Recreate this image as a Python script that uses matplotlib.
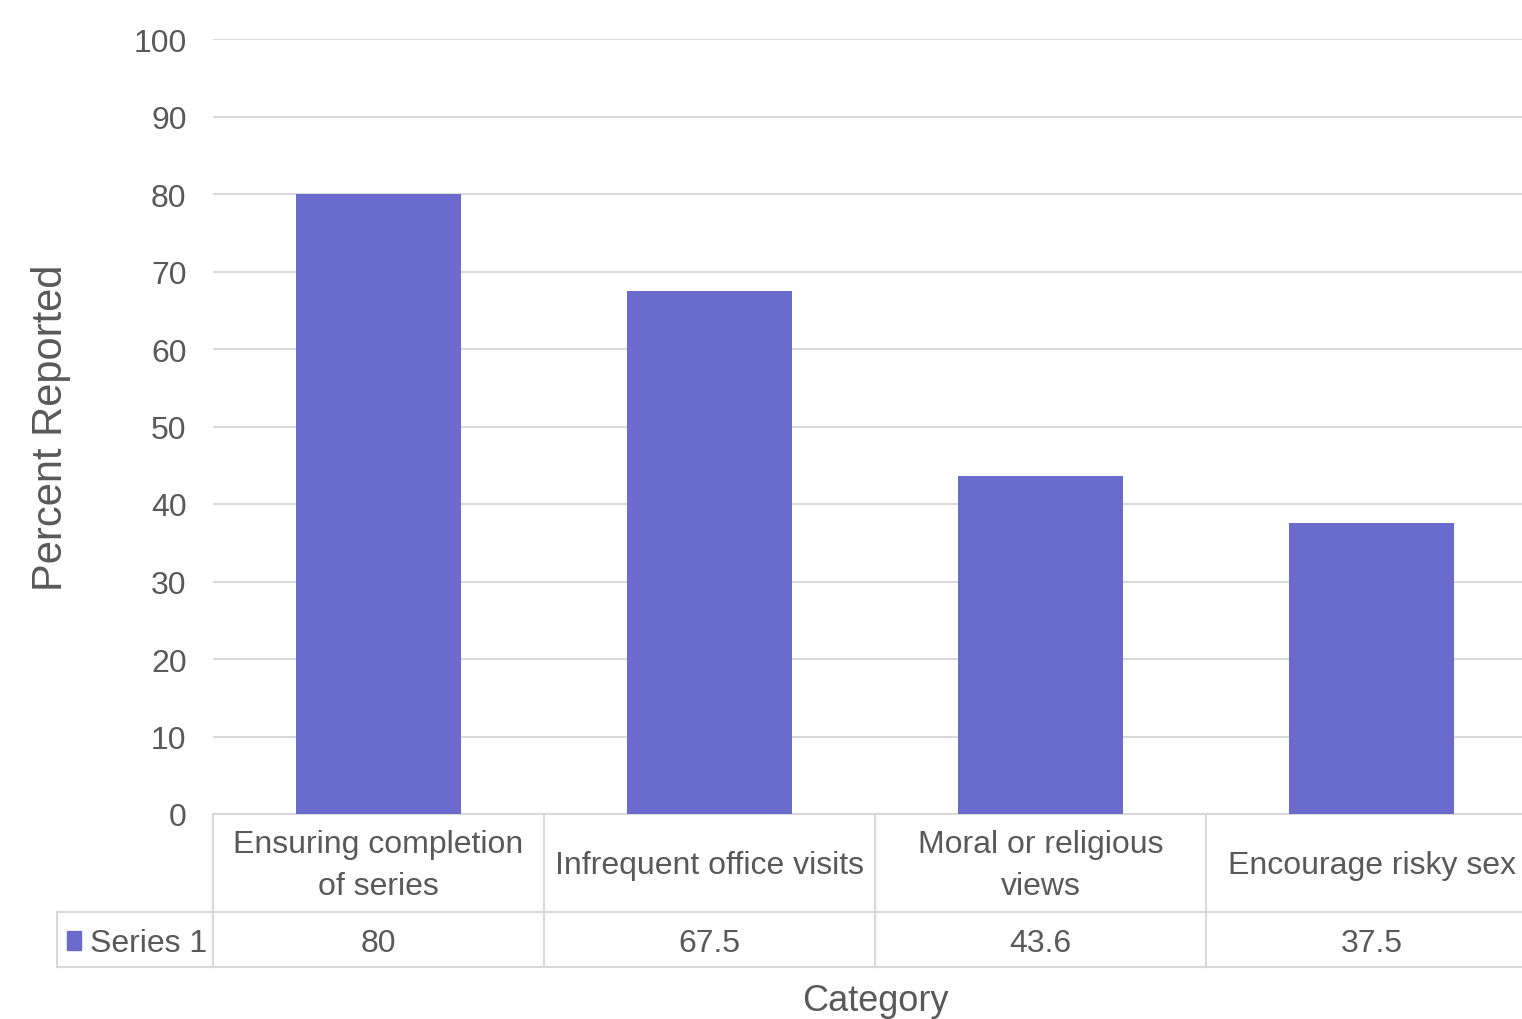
import matplotlib
matplotlib.use('Agg')
import matplotlib.pyplot as plt
import matplotlib.transforms as transforms
from matplotlib.font_manager import fontManager

# Chart data
categories = ['Ensuring completion\nof series', 'Infrequent office visits',
              'Moral or religious\nviews', 'Encourage risky sex']
values = [80, 67.5, 43.6, 37.5]
value_labels = ['80', '67.5', '43.6', '37.5']
series_name = 'Series 1'
y_ticks = [0, 10, 20, 30, 40, 50, 60, 70, 80, 90, 100]

names = {f.name for f in fontManager.ttflist}
family = [f for f in ['Liberation Sans', 'DejaVu Sans'] if f in names] or ['DejaVu Sans']
plt.rcParams['font.family'] = family

text_color = '#595959'
grid_color = '#D9D9D9'
bar_color = '#6B6BCD'
fs = 23  # ticks and table text (original uses a narrow font)

W, H = 1522, 1020
fig = plt.figure(figsize=(W / 100, H / 100), dpi=100)
# axes extends a little past the right edge like the original crop
ax = fig.add_axes([213 / W, 1 - 815 / H, 1324 / W, 775 / H])

x = list(range(len(categories)))
ax.bar(x, values, width=0.5, color=bar_color, zorder=3)
ax.set_xlim(-0.5, len(categories) - 0.5)
ax.set_ylim(0, 100)
ax.set_yticks(y_ticks)
ax.set_yticklabels([str(t) for t in y_ticks])
ax.tick_params(axis='y', length=0, pad=19, labelsize=fs, labelcolor=text_color)
ax.set_xticks([])
ax.grid(axis='y', color=grid_color, linewidth=1.5, zorder=0)
for s in ax.spines.values():
    s.set_visible(False)

ax.set_ylabel('Percent Reported', fontsize=30, color=text_color, labelpad=45)

# data table under the axis
trans = transforms.blended_transform_factory(ax.transData, ax.transAxes)
row1 = -(913 - 815) / 775
row2 = -(968 - 815) / 775
left_leg = -0.5 - (213 - 57) / 331
lw = 1.5
n = len(categories)
ax.plot([-0.5, n - 0.5], [0, 0], color=grid_color, lw=lw, transform=trans, clip_on=False)
ax.plot([left_leg, n - 0.5], [row1, row1], color=grid_color, lw=lw, transform=trans, clip_on=False)
ax.plot([left_leg, n - 0.5], [row2, row2], color=grid_color, lw=lw, transform=trans, clip_on=False)
ax.plot([left_leg, left_leg], [row1, row2], color=grid_color, lw=lw, transform=trans, clip_on=False)
for i in range(n + 1):
    ax.plot([i - 0.5, i - 0.5], [0, row2], color=grid_color, lw=lw, transform=trans, clip_on=False)

val_y = (row1 + row2) / 2 - 4 / 775
for i, (cat, lab) in enumerate(zip(categories, value_labels)):
    ax.text(i, row1 / 2 - 2 / 775, cat, ha='center', va='center', fontsize=fs,
            color=text_color, transform=trans, linespacing=1.55)
    ax.text(i, val_y, lab, ha='center', va='center', fontsize=fs,
            color=text_color, transform=trans)

# legend key in the table
ax.text(-0.5 - (213 - 90) / 331, val_y, series_name, ha='left', va='center',
        fontsize=fs, color=text_color, transform=trans)
fig.patches.append(plt.Rectangle((67 / W, 1 - 951 / H), 14 / W, 19 / H, color=bar_color,
                                 transform=fig.transFigure, figure=fig))

fig.text(875 / W, 1 - 1002 / H, 'Category', ha='center', va='center', fontsize=26,
         color=text_color)

fig.savefig('out.png', dpi=100)
